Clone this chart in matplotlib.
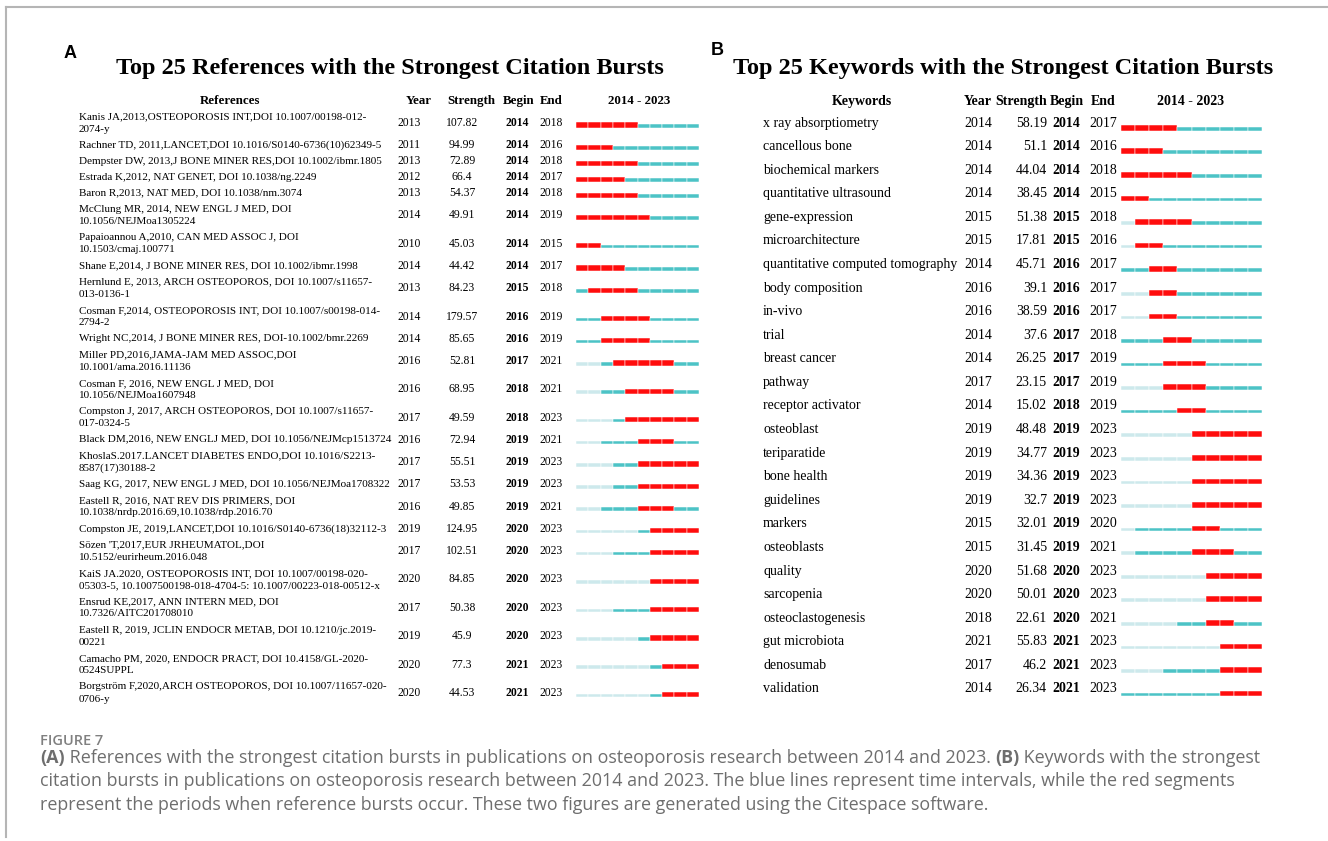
import matplotlib
matplotlib.use('Agg')
import matplotlib.pyplot as plt

# ---- data : panel A (references) ----
refs = [
    "Kanis JA,2013,OSTEOPOROSIS INT,DOI 10.1007/00198-012-\n2074-y",
    "Rachner TD, 2011,LANCET,DOI 10.1016/S0140-6736(10)62349-5",
    "Dempster DW, 2013,J BONE MINER RES,DOI 10.1002/ibmr.1805",
    "Estrada K,2012, NAT GENET, DOI 10.1038/ng.2249",
    "Baron R,2013, NAT MED, DOI 10.1038/nm.3074",
    "McClung MR, 2014, NEW ENGL J MED, DOI\n10.1056/NEJMoa1305224",
    "Papaioannou A,2010, CAN MED ASSOC J, DOI\n10.1503/cmaj.100771",
    "Shane E,2014, J BONE MINER RES, DOI 10.1002/ibmr.1998",
    "Hernlund E, 2013, ARCH OSTEOPOROS, DOI 10.1007/s11657-\n013-0136-1",
    "Cosman F,2014, OSTEOPOROSIS INT, DOI 10.1007/s00198-014-\n2794-2",
    "Wright NC,2014, J BONE MINER RES, DOI-10.1002/bmr.2269",
    "Miller PD,2016,JAMA-JAM MED ASSOC,DOI\n10.1001/ama.2016.11136",
    "Cosman F, 2016, NEW ENGL J MED, DOI\n10.1056/NEJMoa1607948",
    "Compston J, 2017, ARCH OSTEOPOROS, DOI 10.1007/s11657-\n017-0324-5",
    "Black DM,2016, NEW ENGLJ MED, DOI 10.1056/NEJMcp1513724",
    "KhoslaS.2017.LANCET DIABETES ENDO,DOI 10.1016/S2213-\n8587(17)30188-2",
    "Saag KG, 2017, NEW ENGL J MED, DOI 10.1056/NEJMoa1708322",
    "Eastell R, 2016, NAT REV DIS PRIMERS, DOI\n10.1038/nrdp.2016.69,10.1038/rdp.2016.70",
    "Compston JE, 2019,LANCET,DOI 10.1016/S0140-6736(18)32112-3",
    "Sözen 'T,2017,EUR JRHEUMATOL,DOI\n10.5152/eurirheum.2016.048",
    "KaiS JA.2020, OSTEOPOROSIS INT, DOI 10.1007/00198-020-\n05303-5, 10.1007500198-018-4704-5: 10.1007/00223-018-00512-x",
    "Ensrud KE,2017, ANN INTERN MED, DOI\n10.7326/AITC201708010",
    "Eastell R, 2019, JCLIN ENDOCR METAB, DOI 10.1210/jc.2019-\n00221",
    "Camacho PM, 2020, ENDOCR PRACT, DOI 10.4158/GL-2020-\n0524SUPPL",
    "Borgström F,2020,ARCH OSTEOPOROS, DOI 10.1007/11657-020-\n0706-y",
]
ref_year = [2013, 2011, 2013, 2012, 2013, 2014, 2010, 2014, 2013, 2014, 2014, 2016, 2016,
            2017, 2016, 2017, 2017, 2016, 2019, 2017, 2020, 2017, 2019, 2020, 2020]
ref_strength = [107.82, 94.99, 72.89, 66.4, 54.37, 49.91, 45.03, 44.42, 84.23, 179.57, 85.65,
                52.81, 68.95, 49.59, 72.94, 55.51, 53.53, 49.85, 124.95, 102.51, 84.85, 50.38,
                45.9, 77.3, 44.53]
ref_begin = [2014, 2014, 2014, 2014, 2014, 2014, 2014, 2014, 2015, 2016, 2016, 2017, 2018,
             2018, 2019, 2019, 2019, 2019, 2020, 2020, 2020, 2020, 2020, 2021, 2021]
ref_end = [2018, 2016, 2018, 2017, 2018, 2019, 2015, 2017, 2018, 2019, 2019, 2021, 2021,
           2023, 2021, 2023, 2023, 2021, 2023, 2023, 2023, 2023, 2023, 2023, 2023]

# ---- data : panel B (keywords) ----
keywords = ["x ray absorptiometry", "cancellous bone", "biochemical markers",
            "quantitative ultrasound", "gene-expression", "microarchitecture",
            "quantitative computed tomography", "body composition", "in-vivo", "trial",
            "breast cancer", "pathway", "receptor activator", "osteoblast", "teriparatide",
            "bone health", "guidelines", "markers", "osteoblasts", "quality", "sarcopenia",
            "osteoclastogenesis", "gut microbiota", "denosumab", "validation"]
kw_year = [2014, 2014, 2014, 2014, 2015, 2015, 2014, 2016, 2016, 2014, 2014, 2017, 2014,
           2019, 2019, 2019, 2019, 2015, 2015, 2020, 2020, 2018, 2021, 2017, 2014]
kw_strength = [58.19, 51.1, 44.04, 38.45, 51.38, 17.81, 45.71, 39.1, 38.59, 37.6, 26.25,
               23.15, 15.02, 48.48, 34.77, 34.36, 32.7, 32.01, 31.45, 51.68, 50.01, 22.61,
               55.83, 46.2, 26.34]
kw_begin = [2014, 2014, 2014, 2014, 2015, 2015, 2016, 2016, 2016, 2017, 2017, 2017, 2018,
            2019, 2019, 2019, 2019, 2019, 2019, 2020, 2020, 2020, 2021, 2021, 2021]
kw_end = [2017, 2016, 2018, 2015, 2018, 2016, 2017, 2017, 2017, 2018, 2019, 2019, 2019,
          2023, 2023, 2023, 2023, 2020, 2021, 2023, 2023, 2021, 2023, 2023, 2023]

first_year, last_year = 2014, 2023

RED = '#ff0d0d'
TEAL = '#4cc3c6'
LIGHT = '#cde9ec'
SERIF = 'Liberation Serif'

W, H = 1328, 841
fig = plt.figure(figsize=(W / 100, H / 100), dpi=100)
ax = fig.add_axes([0, 0, 1, 1])
ax.set_xlim(0, W)
ax.set_ylim(H, 0)
ax.axis('off')

# frame
ax.plot([6, W], [7, 7], color='#b5b5b5', lw=1.5)
ax.plot([6, 6], [7, 837], color='#b5b5b5', lw=1.5)


def bar_axes(x0, x1):
    b = fig.add_axes([x0 / W, 0, (x1 - x0) / W, 1])
    b.set_xlim(first_year, last_year + 1)
    b.set_ylim(H, 0)
    b.axis('off')
    return b


def draw_bursts(b, ys, years, begins, ends, dy, red_h, line_h):
    for y, yr, bg, en in zip(ys, years, begins, ends):
        base = y + dy
        for t in range(first_year, last_year + 1):
            if bg <= t <= en:
                c, h = RED, red_h
            elif t < yr:
                c, h = LIGHT, line_h
            else:
                c, h = TEAL, line_h
            b.bar(t, h, bottom=base - h, width=1, align='edge', color=c,
                  edgecolor='white', linewidth=0.35)


# ---- panel A ----
ax.text(70, 53, 'A', fontsize=13, fontweight='bold', family='Liberation Sans',
        ha='center', va='center')
ax.text(390, 68, 'Top 25 References with the Strongest Citation Bursts', fontsize=17.5,
        fontweight='bold', family=SERIF, ha='center', va='center')
hy = 101
hkw = dict(fontsize=9.3, fontweight='bold', family=SERIF, va='center')
ax.text(230, hy, 'References', ha='center', **hkw)
ax.text(419, hy, 'Year', ha='center', **hkw)
ax.text(471, hy, 'Strength', ha='center', **hkw)
ax.text(519, hy, 'Begin', ha='center', **hkw)
ax.text(551, hy, 'End', ha='center', **hkw)
ax.text(639, hy, '2014 - 2023', ha='center', **hkw)

# row positions from the number of text lines in each label
heights = [28.4 if '\n' in r else 16.0 for r in refs]
ys_a = [123.0]
for i in range(1, len(refs)):
    ys_a.append(ys_a[-1] + (heights[i - 1] + heights[i]) / 2)

bkw = dict(fontsize=8.0, family=SERIF, va='center')
vkw = dict(fontsize=8.4, family=SERIF, va='center')
for y, r, yr, s, bg, en in zip(ys_a, refs, ref_year, ref_strength, ref_begin, ref_end):
    ax.text(79, y, r, ha='left', linespacing=1.45, **bkw)
    ax.text(409, y, str(yr), ha='center', **vkw)
    ax.text(462, y, f'{s:g}', ha='center', **vkw)
    ax.text(517, y, str(bg), ha='center', fontweight='bold', **vkw)
    ax.text(551, y, str(en), ha='center', **vkw)

ba = bar_axes(576, 699)
draw_bursts(ba, ys_a, ref_year, ref_begin, ref_end, 4.5, 5.2, 3.6)

# ---- panel B ----
ax.text(717, 50, 'B', fontsize=13, fontweight='bold', family='Liberation Sans',
        ha='center', va='center')
ax.text(1003, 68, 'Top 25 Keywords with the Strongest Citation Bursts', fontsize=17.5,
        fontweight='bold', family=SERIF, ha='center', va='center')
hkw2 = dict(fontsize=10, fontweight='bold', family=SERIF, va='center')
ax.text(862, hy, 'Keywords', ha='center', **hkw2)
ax.text(978, hy, 'Year', ha='center', **hkw2)
ax.text(1047, hy, 'Strength', ha='right', **hkw2)
ax.text(1067, hy, 'Begin', ha='center', **hkw2)
ax.text(1103, hy, 'End', ha='center', **hkw2)
ax.text(1191, hy, '2014 - 2023', ha='center', **hkw2)

ys_b = [123 + i * 23.58 for i in range(len(keywords))]
bkw2 = dict(fontsize=10, family=SERIF, va='center')
for y, k, yr, s, bg, en in zip(ys_b, keywords, kw_year, kw_strength, kw_begin, kw_end):
    ax.text(763, y, k, ha='left', **bkw2)
    ax.text(978, y, str(yr), ha='center', **bkw2)
    ax.text(1047, y, f'{s:g}', ha='right', **bkw2)
    ax.text(1066, y, str(bg), ha='center', fontweight='bold', **bkw2)
    ax.text(1103, y, str(en), ha='center', **bkw2)

bb = bar_axes(1121, 1262)
draw_bursts(bb, ys_b, kw_year, kw_begin, kw_end, 7.5, 5.6, 3.6)

# ---- caption ----
renderer = fig.canvas.get_renderer()
CAP = '#6e6e6e'


def rich_line(x, y, parts):
    for txt, bold in parts:
        t = ax.text(x, y, txt, fontsize=12.9, family='Open Sans', color=CAP,
                    fontweight='bold' if bold else 'normal', ha='left', va='center')
        ext = t.get_window_extent(renderer)
        x = ax.transData.inverted().transform((ext.x1, ext.y0))[0]


ax.text(40, 741, 'FIGURE 7', fontsize=10.5, family='Open Sans', fontweight='semibold',
        color='#808080', ha='left', va='center')
rich_line(40, 758, [('(A)', True),
                    (' References with the strongest citation bursts in publications on '
                     'osteoporosis research between 2014 and 2023. ', False),
                    ('(B)', True), (' Keywords with the strongest', False)])
rich_line(40, 781, [('citation bursts in publications on osteoporosis research between 2014 '
                     'and 2023. The blue lines represent time intervals, while the red '
                     'segments', False)])
rich_line(40, 805, [('represent the periods when reference bursts occur. These two figures '
                     'are generated using the Citespace software.', False)])

fig.savefig('out.png', dpi=100)
